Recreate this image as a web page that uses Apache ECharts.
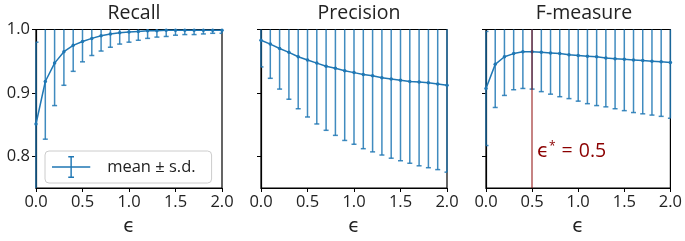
<!DOCTYPE html>
<html>
<head>
<meta charset="utf-8">
<script src="https://cdn.jsdelivr.net/npm/echarts@6/dist/echarts.min.js"></script>
<style>
  html, body { margin: 0; padding: 0; background: #fff; }
  #chart { width: 685px; height: 241px; }
</style>
</head>
<body>
<div id="chart"></div>
<script>
// epsilon values, 0.0 .. 2.0 step 0.1
var eps = [0.0, 0.1, 0.2, 0.3, 0.4, 0.5, 0.6, 0.7, 0.8, 0.9, 1.0,
           1.1, 1.2, 1.3, 1.4, 1.5, 1.6, 1.7, 1.8, 1.9, 2.0];

var recallMean = [0.851, 0.918, 0.947, 0.965, 0.975, 0.981, 0.986, 0.990, 0.993, 0.995, 0.996,
                  0.997, 0.998, 0.998, 0.999, 0.999, 0.999, 0.999, 0.999, 0.999, 0.999];
var recallSd = [0.129, 0.091, 0.067, 0.053, 0.041, 0.032, 0.027, 0.024, 0.021, 0.018, 0.016,
                0.014, 0.012, 0.010, 0.010, 0.008, 0.007, 0.007, 0.006, 0.005, 0.005];

var precisionMean = [0.983, 0.977, 0.970, 0.964, 0.957, 0.952, 0.947, 0.942, 0.939, 0.935, 0.932,
                     0.929, 0.927, 0.924, 0.922, 0.920, 0.918, 0.917, 0.916, 0.914, 0.912];
var precisionSd = [0.042, 0.054, 0.064, 0.074, 0.082, 0.090, 0.096, 0.101, 0.106, 0.110, 0.113,
                   0.117, 0.120, 0.122, 0.125, 0.127, 0.129, 0.132, 0.134, 0.135, 0.137];

var fMean = [0.907, 0.945, 0.957, 0.962, 0.965, 0.965, 0.964, 0.963, 0.962, 0.960, 0.959,
             0.958, 0.957, 0.955, 0.954, 0.953, 0.952, 0.951, 0.950, 0.949, 0.948];
var fSd = [0.090, 0.068, 0.061, 0.057, 0.058, 0.059, 0.062, 0.065, 0.068, 0.069, 0.072,
           0.075, 0.077, 0.077, 0.079, 0.081, 0.083, 0.084, 0.085, 0.086, 0.088];

var titles = ['Recall', 'Precision', 'F-measure'];
var xTicks = [0.0, 0.5, 1.0, 1.5, 2.0];
var yTicks = [0.8, 0.9, 1.0];
var epsStar = 0.5;

var blue = '#1f77b4';
var font = '"Open Sans", "DejaVu Sans", sans-serif';

var chart = echarts.init(document.getElementById('chart'));

function pairs(mean) {
  return eps.map(function (x, i) { return [x, mean[i]]; });
}
function triples(mean, sd) {
  return eps.map(function (x, i) { return [x, mean[i], sd[i]]; });
}

// error bar drawer, clipped to the grid like matplotlib does
function renderErr(params, api) {
  var x = api.value(0), m = api.value(1), s = api.value(2);
  var hi = api.coord([x, m + s]);
  var lo = api.coord([x, m - s]);
  var cs = params.coordSys;
  var top = cs.y, bottom = cs.y + cs.height;
  var left = cs.x, right = cs.x + cs.width;
  var cx = hi[0];
  var y1 = Math.max(hi[1], top), y2 = Math.min(lo[1], bottom);
  var style = { stroke: blue, lineWidth: 1.5, opacity: 0.85 };
  var kids = [];
  if (y2 > y1) {
    kids.push({ type: 'line', shape: { x1: cx, y1: y1, x2: cx, y2: y2 }, style: style });
  }
  var w = 2.5;
  var cl = Math.max(cx - w, left), cr = Math.min(cx + w, right);
  if (hi[1] >= top && hi[1] <= bottom) {
    kids.push({ type: 'line', shape: { x1: cl, y1: hi[1], x2: cr, y2: hi[1] }, style: style });
  }
  if (lo[1] >= top && lo[1] <= bottom) {
    kids.push({ type: 'line', shape: { x1: cl, y1: lo[1], x2: cr, y2: lo[1] }, style: style });
  }
  return { type: 'group', children: kids };
}

var lefts = [36, 261, 486];
var grids = [], xAxes = [], yAxes = [], series = [], titleOpts = [];

for (var k = 0; k < 3; k++) {
  grids.push({
    left: lefts[k], top: 29.5, width: 186, height: 163,
    show: true, borderColor: '#000', borderWidth: 1.2, backgroundColor: 'transparent'
  });
  xAxes.push({
    gridIndex: k, type: 'value', min: 0, max: 2, interval: 0.5,
    name: 'ϵ', nameLocation: 'middle', nameGap: 29,
    nameTextStyle: { fontFamily: font, fontSize: 19, color: '#222' },
    axisLine: { show: true, onZero: false, lineStyle: { color: '#000', width: 1.2 } },
    axisTick: { show: true, length: 4, lineStyle: { color: '#000' } },
    axisLabel: {
      fontFamily: font, fontSize: 16.5, color: '#222', margin: 6,
      formatter: function (v) { return v.toFixed(1); }
    },
    splitLine: { show: false }
  });
  yAxes.push({
    gridIndex: k, type: 'value', min: 0.75, max: 1.0,
    axisLine: { show: true, onZero: false, lineStyle: { color: '#000', width: 1.2 } },
    axisTick: { show: true, length: 4, customValues: yTicks, lineStyle: { color: '#000' } },
    axisLabel: {
      show: k === 0, customValues: yTicks,
      fontFamily: font, fontSize: 16.5, color: '#222', margin: 6,
      formatter: function (v) { return v.toFixed(1); }
    },
    splitLine: { show: false }
  });
  titleOpts.push({
    text: titles[k], left: lefts[k] + 93, top: -2, textAlign: 'center',
    textStyle: { fontFamily: font, fontSize: 19.5, fontWeight: 'normal', color: '#222' }
  });
}

var means = [recallMean, precisionMean, fMean];
var sds = [recallSd, precisionSd, fSd];

for (var j = 0; j < 3; j++) {
  series.push({
    type: 'custom', name: 'err' + j, xAxisIndex: j, yAxisIndex: j,
    renderItem: renderErr, data: triples(means[j], sds[j]), z: 2, silent: true
  });
  var line = {
    type: 'line', name: 'mean ± s.d.', xAxisIndex: j, yAxisIndex: j,
    data: pairs(means[j]), symbol: 'circle', symbolSize: 3.5, showSymbol: true,
    lineStyle: { color: blue, width: 1.5 }, itemStyle: { color: blue },
    clip: true, z: 3, silent: true
  };
  if (j === 2) {
    line.markLine = {
      silent: true, symbol: 'none',
      label: { show: false },
      lineStyle: { color: 'rgba(139,0,0,0.65)', width: 1.5, type: 'solid' },
      data: [{ xAxis: epsStar }]
    };
  }
  series.push(line);
}

var legendIcon = 'path://M0,11.25 H40 V12.75 H0 Z M19.25,1 H20.75 V23 H19.25 Z M17,0.5 H23 V2 H17 Z M17,22 H23 V23.5 H17 Z';

chart.setOption({
  animation: false,
  title: titleOpts,
  grid: grids,
  xAxis: xAxes,
  yAxis: yAxes,
  legend: {
    data: ['mean ± s.d.'],
    left: 45, top: 151,
    padding: [5, 16, 5, 7],
    itemWidth: 40, itemHeight: 22, itemGap: 10,
    icon: legendIcon,
    borderColor: '#ccc', borderWidth: 1, borderRadius: 4,
    backgroundColor: 'rgba(255,255,255,0.8)',
    textStyle: { fontFamily: font, fontSize: 16.5, color: '#222', padding: [0, 0, 0, 11] },
    itemStyle: { color: blue },
    selectedMode: false
  },
  graphic: [{
    type: 'text', left: 537, top: 141,
    style: {
      text: '{e|ϵ}{s|*}{q|=}{e|0.5}',
      rich: {
        e: { fontFamily: font, fontSize: 19.5, fill: '#8b0000' },
        q: { fontFamily: font, fontSize: 19.5, fill: '#8b0000', padding: [0, 6, 0, 6] },
        s: { fontFamily: font, fontSize: 12, fill: '#8b0000', verticalAlign: 'top', padding: [0, 0, 9, 0] }
      }
    }
  }],
  series: series
});
</script>
</body>
</html>
